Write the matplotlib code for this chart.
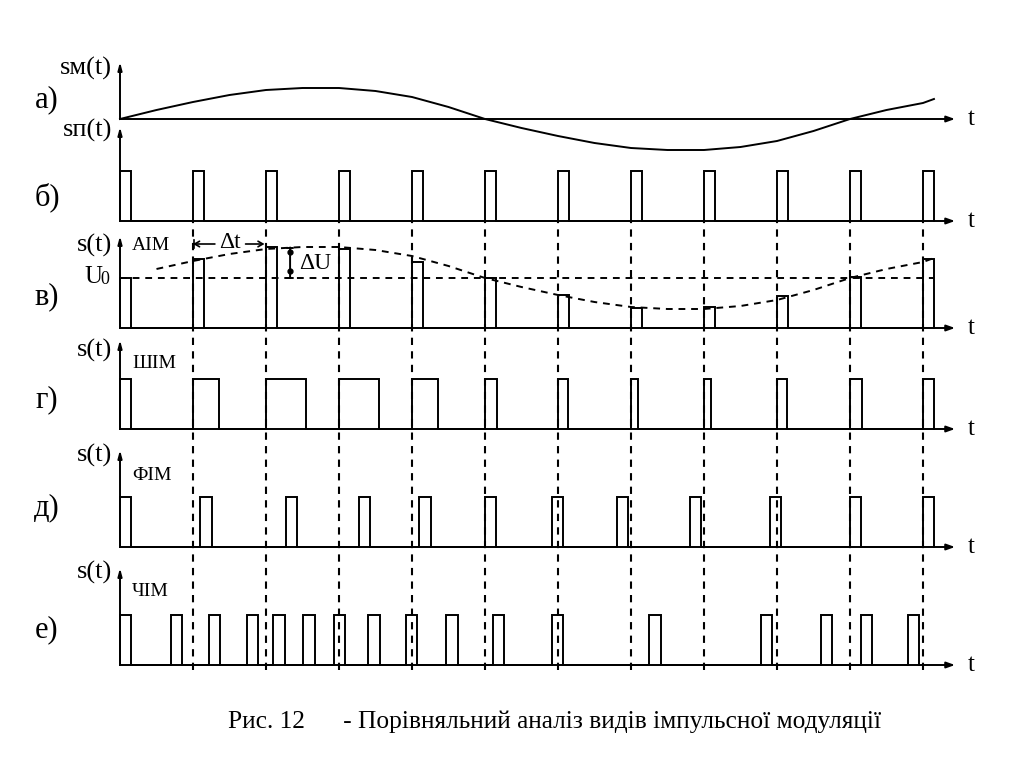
import numpy as np
import matplotlib
matplotlib.use("Agg")
import matplotlib.pyplot as plt

plt.rcParams['font.family'] = ['Liberation Serif', 'DejaVu Serif']

# --- data (time in pulse periods, height in pulse heights) ---
t_mod = [0, 0.5, 1, 1.5, 2, 2.5, 3, 3.5, 4, 4.5, 5, 5.5, 6, 6.5, 7, 7.5, 8,
         8.5, 9, 9.5, 10, 10.5, 11, 11.15]
s_mod = [0, 0.18, 0.34, 0.48, 0.58, 0.62, 0.62, 0.56, 0.44, 0.24, 0, -0.18,
         -0.34, -0.48, -0.58, -0.62, -0.62, -0.56, -0.44, -0.24, 0, 0.18, 0.32, 0.40]

clock = [0, 1, 2, 3, 4, 5, 6, 7, 8, 9, 10, 11]
pulse_w = 0.155
U0 = 1.0

aim_height = [1.0, 1.39, 1.61, 1.57, 1.31, 1.0, 0.65, 0.39, 0.41, 0.63, 1.02, 1.39]
pwm_width = [0.15, 0.36, 0.55, 0.55, 0.35, 0.16, 0.14, 0.09, 0.09, 0.14, 0.17, 0.15]
ppm_start = [0, 1.10, 2.27, 3.27, 4.10, 5.0, 5.92, 6.81, 7.81, 8.90, 10.0, 11.0]
fm_start = [0, 0.70, 1.22, 1.74, 2.10, 2.51, 2.93, 3.40, 3.92, 4.47, 5.11, 5.92,
            7.25, 8.78, 9.60, 10.15, 10.79]

panel_tags = ['а)', 'б)', 'в)', 'г)', 'д)', 'е)']
signal_names = ['sм(t)', 'sп(t)', 's(t)', 's(t)', 's(t)', 's(t)']
mod_names = ['АІМ', 'ШІМ', 'ФІМ', 'ЧІМ']
caption = 'Рис. 12      - Порівняльний аналіз видів імпульсної модуляції'

# --- layout (pixels of a 1024x768 picture) ---
W, H = 1024, 768
X0, XS, YS = 120, 73.0, 50.0
AX_L, AX_R = 100, 1010
baselines = [119, 221, 328, 429, 547, 665]
axis_tops = [62, 127, 236, 340, 450, 568]
name_y = [68, 130, 245, 350, 455, 572]
tag_y = [100, 197, 297, 400, 508, 630]
mod_y = [246, 363, 475, 592]
T_END = (955 - X0) / XS
LW = 1.4
DASH = (0, (3.5, 3))

fig = plt.figure(figsize=(W / 100, H / 100), dpi=100)
fig.patch.set_facecolor('white')


def fx(x):
    return x / W


def fy(y):
    return 1 - y / H


def panel(yb, below=45, above=120):
    ax = fig.add_axes([fx(AX_L), fy(yb + below), fx(AX_R - AX_L), (below + above) / H])
    ax.set_xlim((AX_L - X0) / XS, (AX_R - X0) / XS)
    ax.set_ylim(-below / YS, above / YS)
    ax.axis('off')
    ax.patch.set_alpha(0)
    return ax


def arrow(ax, start, end, style, lw=LW):
    ax.annotate('', xy=end, xytext=start, annotation_clip=False,
                arrowprops=dict(arrowstyle=style, lw=lw, color='k',
                                shrinkA=0, shrinkB=0))


def axes_arrows(ax, yb, ytop):
    arrow(ax, (0, 0), (T_END, 0), '-|>,head_length=0.5,head_width=0.18')
    arrow(ax, (0, 0), (0, (yb - ytop) / YS), '-|>,head_length=0.45,head_width=0.12')
    ax.text(T_END + 0.18, 0, 't', fontsize=18, va='center', ha='left')


def pulses(ax, starts, widths, heights):
    xs, ys = [], []
    for s, w, h in zip(starts, widths, heights):
        xs += [s, s, s + w, s + w]
        ys += [0, h, h, 0]
    ax.plot(xs, ys, color='k', lw=LW, solid_joinstyle='miter', clip_on=False)


axs = [panel(yb) for yb in baselines]
for ax, yb, yt in zip(axs, baselines, axis_tops):
    axes_arrows(ax, yb, yt)

n = len(clock)
# а) modulating signal
axs[0].plot(t_mod, s_mod, color='k', lw=LW, clip_on=False)
# б) carrier pulses
pulses(axs[1], clock, [pulse_w] * n, [1] * n)
# в) AIM
pulses(axs[2], clock, [pulse_w] * n, aim_height)
axs[2].plot([0, clock[-1] + pulse_w], [U0, U0], color='k', lw=LW, ls=DASH, clip_on=False)
env_t = [t for t in t_mod if t > pulse_w]
env_v = [U0 + v for t, v in zip(t_mod, s_mod) if t > pulse_w]
axs[2].plot(env_t, env_v, color='k', lw=LW, ls=DASH, clip_on=False)
# Δt
y_dt = (328 - 244) / YS
arrow(axs[2], (1.3, y_dt), (1.0, y_dt), '->,head_length=0.35,head_width=0.2', lw=1.2)
arrow(axs[2], (1.72, y_dt), (1.98, y_dt), '->,head_length=0.35,head_width=0.2', lw=1.2)
axs[2].plot([1.02, 1.02], [y_dt - 0.08, y_dt + 0.08], color='k', lw=1.2, clip_on=False)
axs[2].text(1.5, y_dt + 0.02, 'Δt', fontsize=17, ha='center', va='center')
# ΔU
t_du = 2.33
arrow(axs[2], (t_du, U0), (t_du, aim_height[2]), '|-|,widthA=0.2,widthB=0.2', lw=1.4)
axs[2].plot([t_du, t_du], [U0 + 0.14, aim_height[2] - 0.1], 'o', ms=3.5, color='k',
            clip_on=False)
axs[2].text(t_du + 0.12, (U0 + aim_height[2]) / 2 - 0.02, 'ΔU', fontsize=17,
            ha='left', va='center')
# г) PWM
pulses(axs[3], clock, pwm_width, [1] * n)
# д) PPM
pulses(axs[4], ppm_start, [pulse_w] * n, [1] * n)
# е) pulse frequency modulation
pulses(axs[5], fm_start, [pulse_w] * len(fm_start), [1] * len(fm_start))

# vertical dashed clock lines across б) ... е)
gx = fig.add_axes([fx(AX_L), fy(670), fx(AX_R - AX_L), (670 - 221) / H])
gx.set_xlim((AX_L - X0) / XS, (AX_R - X0) / XS)
gx.set_ylim(0, 1)
gx.axis('off')
gx.patch.set_alpha(0)
gx.vlines(clock[1:], 0, 1, colors='k', lw=1.5, linestyles=DASH)

# labels
for tag, y in zip(panel_tags, tag_y):
    fig.text(fx(47), fy(y), tag, fontsize=22, ha='center', va='center')
for name, y in zip(signal_names, name_y):
    fig.text(fx(112), fy(y), name, fontsize=19, ha='right', va='center')
fig.text(fx(84), fy(277), 'U', fontsize=18, ha='left', va='center')
fig.text(fx(100), fy(280), '0', fontsize=13, ha='left', va='center')
for name, y in zip(mod_names, mod_y):
    fig.text(fx(132), fy(y), name, fontsize=14, ha='left', va='center')

fig.text(fx(228), fy(722), caption, fontsize=18.3, ha='left', va='center')

fig.savefig('out.png', dpi=100, facecolor='white')
